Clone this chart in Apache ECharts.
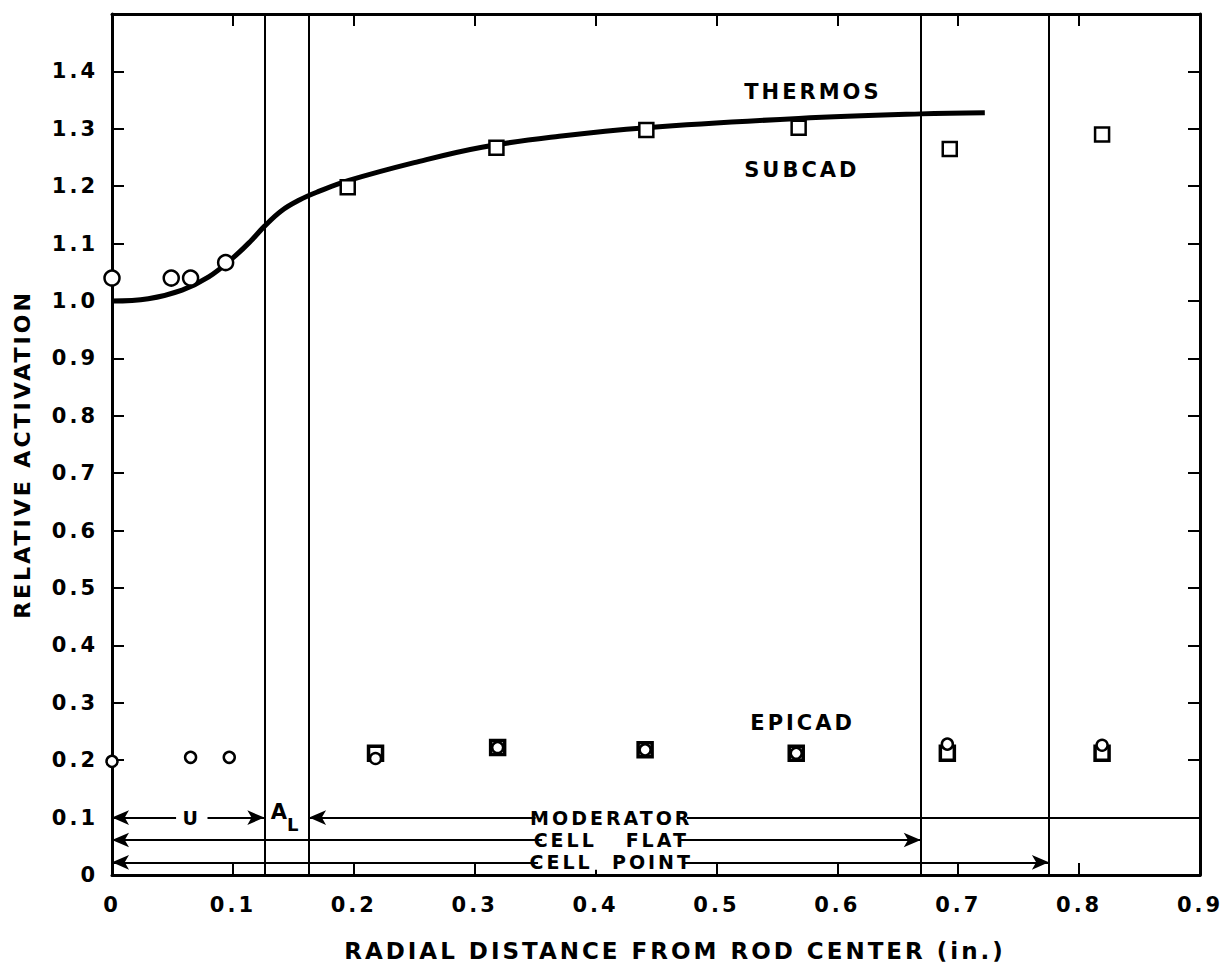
<!DOCTYPE html>
<html>
<head>
<meta charset="utf-8">
<title>Relative activation vs radial distance</title>
<script src="https://cdn.jsdelivr.net/npm/echarts@6/dist/echarts.min.js"></script>
<style>
  html, body { margin: 0; padding: 0; background: #fff; }
  #chart { width: 1222px; height: 967px; }
  /* hand-lettered look: wide letter spacing on every label */
  #chart text { letter-spacing: 3px; }
</style>
</head>
<body>
<div id="chart"></div>
<script>
// ---- data ----
const xTickLabels = ['0', '0.1', '0.2', '0.3', '0.4', '0.5', '0.6', '0.7', '0.8', '0.9'];
const yTickLabels = ['0', '0.1', '0.2', '0.3', '0.4', '0.5', '0.6', '0.7', '0.8', '0.9',
                     '1.0', '1.1', '1.2', '1.3', '1.4'];

// THERMOS calculation (smooth curve)
const thermosX = [0, 0.03, 0.058, 0.08, 0.1, 0.115, 0.126, 0.14, 0.155, 0.17, 0.196, 0.25, 0.306, 0.37, 0.442, 0.568, 0.669, 0.722];
const thermosY = [1.0, 1.004, 1.019, 1.042, 1.075, 1.105, 1.13, 1.157, 1.176, 1.19, 1.21, 1.241, 1.268, 1.287, 1.302, 1.318, 1.326, 1.328];

// SUBCAD measurements
const subcadCircleX = [0, 0.049, 0.065, 0.094];
const subcadCircleY = [1.04, 1.04, 1.04, 1.067];
const subcadSquareX = [0.195, 0.318, 0.442, 0.568, 0.693, 0.819];
const subcadSquareY = [1.198, 1.267, 1.298, 1.302, 1.265, 1.29];

// EPICAD measurements
const epicadSquareX = [0.218, 0.319, 0.441, 0.566, 0.691, 0.819];
const epicadSquareY = [0.212, 0.222, 0.218, 0.212, 0.212, 0.212];
const epicadCircleX = [0, 0.065, 0.097, 0.218, 0.319, 0.441, 0.566, 0.691, 0.819];
const epicadCircleY = [0.198, 0.205, 0.205, 0.203, 0.222, 0.218, 0.212, 0.228, 0.226];

// region boundaries: uranium rod, aluminium clad, cell flat, cell point
const boundaryX = [0.126, 0.163, 0.669, 0.775];

const zip = (xs, ys) => xs.map((x, i) => [x, ys[i]]);

// ---- chart ----
const FONT = 'DejaVu Sans';
const chart = echarts.init(document.getElementById('chart'), null, { renderer: 'svg' });

const axisCommon = {
  type: 'value',
  min: 0,
  splitLine: { show: false },
  axisLine: { show: true, onZero: false, lineStyle: { color: '#000', width: 3 } },
  axisTick: { show: true, inside: true, length: 12, lineStyle: { color: '#000', width: 2 } }
};

const arrowEnd = (x, y, sym) => ({ coord: [x, y], symbol: sym });
const rowY = [0.1, 0.061, 0.022];
const rowLabel = { backgroundColor: '#fff', padding: [0, 8], lineHeight: 15, fontSize: 19 };

const option = {
  backgroundColor: '#fff',
  animation: false,
  grid: { left: 112, right: 22, top: 14, bottom: 83, containLabel: false },
  xAxis: [
    Object.assign({}, axisCommon, {
      max: 0.9, interval: 0.1, position: 'bottom',
      axisLabel: {
        color: '#000', fontFamily: FONT, fontSize: 21, fontWeight: 'bold', margin: 19,
        formatter: v => xTickLabels[Math.round(v * 10)] ?? ''
      },
      name: 'RADIAL DISTANCE FROM ROD CENTER (in.)',
      nameLocation: 'middle', nameGap: 64,
      nameTextStyle: { color: '#000', fontFamily: FONT, fontSize: 23, fontWeight: 'bold', padding: [0, 0, 0, 38] }
    }),
    Object.assign({}, axisCommon, {
      max: 0.9, interval: 0.1, position: 'top',
      axisLabel: { show: false }
    })
  ],
  yAxis: [
    Object.assign({}, axisCommon, {
      max: 1.5, interval: 0.1, position: 'left',
      axisLabel: {
        color: '#000', fontFamily: FONT, fontSize: 21, fontWeight: 'bold', margin: 14,
        formatter: v => yTickLabels[Math.round(v * 10)] ?? ''
      },
      name: 'RELATIVE ACTIVATION',
      nameLocation: 'middle', nameGap: 79, nameRotate: 90,
      nameTextStyle: { color: '#000', fontFamily: FONT, fontSize: 22, fontWeight: 'bold', padding: [0, 20, 0, 0] }
    }),
    Object.assign({}, axisCommon, {
      max: 1.5, interval: 0.1, position: 'right',
      axisLabel: { show: false }
    })
  ],
  series: [
    {
      name: 'THERMOS', type: 'line', smooth: 0.4, showSymbol: false,
      data: zip(thermosX, thermosY),
      lineStyle: { color: '#000', width: 5 }, z: 3
    },
    {
      name: 'SUBCAD circles', type: 'scatter', symbol: 'circle', symbolSize: 15,
      data: zip(subcadCircleX, subcadCircleY),
      itemStyle: { color: '#fff', borderColor: '#000', borderWidth: 2.5, opacity: 1 }, z: 5
    },
    {
      name: 'SUBCAD squares', type: 'scatter', symbol: 'rect', symbolSize: 14,
      data: zip(subcadSquareX, subcadSquareY),
      itemStyle: { color: '#fff', borderColor: '#000', borderWidth: 2.5, opacity: 1 }, z: 5
    },
    {
      name: 'EPICAD squares', type: 'scatter', symbol: 'rect', symbolSize: 14,
      data: zip(epicadSquareX, epicadSquareY),
      itemStyle: { color: '#fff', borderColor: '#000', borderWidth: 3.5, opacity: 1 }, z: 5
    },
    {
      name: 'EPICAD circles', type: 'scatter', symbol: 'circle', symbolSize: 11,
      data: zip(epicadCircleX, epicadCircleY),
      itemStyle: { color: '#fff', borderColor: '#000', borderWidth: 2.5, opacity: 1 }, z: 6
    },
    {
      // region boundaries and dimension arrows
      name: 'regions', type: 'scatter', data: [], z: 2,
      markLine: {
        silent: true, animation: false,
        label: { show: false },
        lineStyle: { color: '#000', type: 'solid', width: 2, opacity: 1 },
        symbol: ['none', 'none'],
        symbolSize: [11, 17],
        data: [
          ...boundaryX.map(x => [{ coord: [x, 0] }, { coord: [x, 1.5] }]),
          [arrowEnd(0, rowY[0], 'arrow'), arrowEnd(boundaryX[0], rowY[0], 'arrow')],
          [arrowEnd(boundaryX[1], rowY[0], 'arrow'), arrowEnd(0.9, rowY[0], 'none')],
          [arrowEnd(0, rowY[1], 'arrow'), arrowEnd(boundaryX[2], rowY[1], 'arrow')],
          [arrowEnd(0, rowY[2], 'arrow'), arrowEnd(boundaryX[3], rowY[2], 'arrow')]
        ]
      }
    },
    {
      // text annotations placed in data coordinates
      name: 'labels', type: 'scatter', symbolSize: 0, z: 10, silent: true,
      itemStyle: { opacity: 1 },
      label: {
        show: true, position: 'inside', color: '#000',
        fontFamily: FONT, fontSize: 21, fontWeight: 'bold',
        formatter: p => p.data.text
      },
      data: [
        { value: [0.523, 1.364], text: 'THERMOS', label: { align: 'left' } },
        { value: [0.523, 1.228], text: 'SUBCAD', label: { align: 'left' } },
        { value: [0.528, 0.265], text: 'EPICAD', label: { align: 'left' } },
        { value: [0.066, rowY[0]], text: 'U', label: rowLabel },
        { value: [0.144, rowY[0]], text: '{a|A}{l|L}',
          label: { rich: {
            a: { fontFamily: FONT, fontSize: 21, fontWeight: 'bold', color: '#000', padding: [0, 0, 12, 0] },
            l: { fontFamily: FONT, fontSize: 18, fontWeight: 'bold', color: '#000', padding: [14, 0, 0, 0] }
          } } },
        { value: [0.413, rowY[0]], text: 'MODERATOR', label: rowLabel },
        { value: [0.413, rowY[1]], text: 'CELL   FLAT', label: rowLabel },
        { value: [0.413, rowY[2]], text: 'CELL  POINT', label: rowLabel }
      ]
    }
  ]
};

chart.setOption(option);
</script>
</body>
</html>
